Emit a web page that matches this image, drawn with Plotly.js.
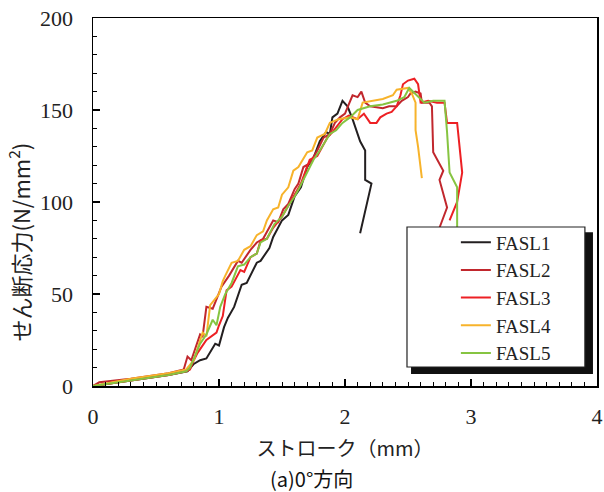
<!DOCTYPE html>
<html><head><meta charset="utf-8">
<script src="https://cdn.plot.ly/plotly-3.0.1.min.js"></script>
<style>html,body{margin:0;padding:0;background:#fff;}#chart{width:604px;height:492px;}</style>
</head><body><div id="chart"></div>
<script>
const seriesNames = ["FASL1", "FASL2", "FASL3", "FASL4", "FASL5"];
const seriesColors = ["#231f20", "#c1272d", "#ed2024", "#f7b32b", "#86c441"];

const fasl1X = [0, 0.2, 0.4, 0.6, 0.75, 0.8, 0.85, 0.9, 0.97, 1.0, 1.04, 1.07, 1.12, 1.18, 1.22, 1.3, 1.33, 1.4, 1.43, 1.5, 1.55, 1.6, 1.65, 1.7, 1.75, 1.8, 1.85, 1.88, 1.9, 1.94, 1.98, 2.02, 2.06, 2.12, 2.16, 2.16, 2.21, 2.12];
const fasl1Y = [0, 2, 4, 6, 8, 12, 14, 15, 23, 22, 32, 37, 43, 55, 56, 67, 68, 75, 81, 90, 93, 103, 108, 119, 124, 133, 138, 137, 146, 148, 155, 152, 145, 133, 128, 112, 110, 83];

const fasl2X = [0, 0.05, 0.3, 0.6, 0.72, 0.75, 0.78, 0.85, 0.87, 0.9, 0.95, 1.0, 1.02, 1.08, 1.15, 1.18, 1.25, 1.3, 1.35, 1.43, 1.47, 1.51, 1.55, 1.6, 1.63, 1.67, 1.72, 1.78, 1.83, 1.88, 1.92, 1.96, 2.0, 2.03, 2.06, 2.1, 2.13, 2.16, 2.2, 2.3, 2.35, 2.41, 2.45, 2.5, 2.52, 2.56, 2.6, 2.61, 2.67, 2.69, 2.7, 2.78, 2.75, 2.81, 2.75];
const fasl2Y = [0, 2, 4, 7, 9, 16, 14, 28, 27, 43, 42, 50, 54, 60, 68, 67, 74, 78, 80, 90, 89, 96, 99, 107, 110, 119, 121, 128, 135, 137, 143, 146, 148, 153, 158, 157, 160, 154, 152, 151, 152, 152, 155, 157, 159, 160, 159, 154, 154, 152, 127, 117, 112, 97, 86];

const fasl3X = [0, 0.3, 0.6, 0.74, 0.77, 0.8, 0.83, 0.9, 0.98, 1.0, 1.03, 1.06, 1.1, 1.17, 1.2, 1.25, 1.3, 1.33, 1.38, 1.43, 1.5, 1.55, 1.59, 1.65, 1.72, 1.78, 1.86, 1.9, 1.98, 2.03, 2.1, 2.15, 2.2, 2.25, 2.28, 2.33, 2.37, 2.41, 2.44, 2.46, 2.5, 2.55, 2.58, 2.6, 2.66, 2.73, 2.79, 2.81, 2.89, 2.93, 2.89, 2.83];
const fasl3Y = [0, 3, 6, 8, 9, 14, 18, 25, 29, 33, 38, 52, 54, 63, 62, 70, 72, 79, 80, 86, 92, 98, 103, 110, 123, 125, 135, 138, 145, 147, 145, 148, 143, 143, 146, 148, 149, 152, 158, 164, 166, 167, 164, 154, 155, 154, 154, 143, 143, 116, 100, 90];

const fasl4X = [0, 0.3, 0.6, 0.74, 0.8, 0.84, 0.87, 0.9, 0.93, 1.0, 1.03, 1.05, 1.1, 1.15, 1.2, 1.25, 1.3, 1.35, 1.38, 1.43, 1.47, 1.5, 1.55, 1.59, 1.63, 1.7, 1.74, 1.78, 1.84, 1.88, 1.95, 2.04, 2.1, 2.14, 2.22, 2.3, 2.38, 2.41, 2.5, 2.53, 2.56, 2.56, 2.58, 2.61];
const fasl4Y = [0, 4, 7, 9, 14, 22, 29, 27, 44, 50, 57, 60, 67, 68, 74, 76, 82, 84, 90, 96, 97, 104, 108, 117, 119, 127, 128, 135, 137, 143, 145, 146, 145, 154, 155, 156, 158, 161, 162, 159, 154, 139, 130, 113];

const fasl5X = [0, 0.3, 0.6, 0.74, 0.77, 0.82, 0.85, 0.9, 0.95, 0.98, 1.01, 1.05, 1.1, 1.15, 1.2, 1.25, 1.3, 1.33, 1.38, 1.44, 1.5, 1.55, 1.6, 1.64, 1.7, 1.75, 1.8, 1.88, 1.93, 1.98, 2.04, 2.1, 2.2, 2.3, 2.41, 2.47, 2.51, 2.57, 2.63, 2.7, 2.79, 2.81, 2.83, 2.89, 2.89];
const fasl5Y = [0, 3, 6, 8, 10, 18, 23, 28, 36, 33, 43, 50, 56, 65, 66, 70, 72, 78, 80, 88, 92, 98, 103, 108, 116, 123, 128, 137, 139, 143, 146, 150, 152, 153, 155, 157, 162, 158, 154, 155, 155, 138, 116, 108, 86];

const xTickVals = [0, 1, 2, 3, 4];
const yTickVals = [0, 50, 100, 150, 200];
const xTitle = "ストローク（mm）";
const yTitle = "せん断応力(N/mm<sup>2</sup>)";
const caption = "(a)0°方向";

const xs = [fasl1X, fasl2X, fasl3X, fasl4X, fasl5X];
const ys = [fasl1Y, fasl2Y, fasl3Y, fasl4Y, fasl5Y];

const traces = seriesNames.map((n, i) => ({
  type: 'scatter', mode: 'lines', name: n,
  x: xs[i], y: ys[i],
  line: {color: seriesColors[i], width: 2}
}));

const serif = "Liberation Serif, DejaVu Serif, serif";
const cjk = "Noto Sans CJK JP, sans-serif";

const layout = {
  width: 604, height: 492,
  margin: {l: 93, r: 7, t: 18, b: 106},
  paper_bgcolor: '#fff', plot_bgcolor: '#fff',
  showlegend: true,
  xaxis: {
    range: [0, 4], tickvals: xTickVals, ticks: 'inside', ticklen: 7, tickwidth: 1.2, tickcolor: '#000',
    minor: {dtick: 0.1, ticks: 'inside', ticklen: 4, tickwidth: 1, tickcolor: '#000'},
    showline: true, linecolor: '#000', linewidth: 1.5, mirror: true,
    showgrid: false, zeroline: false,
    tickfont: {family: serif, size: 22, color: '#222'},
    ticklabelstandoff: 10,
    title: {text: xTitle, font: {family: cjk, size: 20, color: '#222'}, standoff: 14}
  },
  yaxis: {
    range: [0, 200], tickvals: yTickVals, ticks: 'inside', ticklen: 7, tickwidth: 1.2, tickcolor: '#000',
    minor: {dtick: 10, ticks: 'inside', ticklen: 4, tickwidth: 1, tickcolor: '#000'},
    showline: true, linecolor: '#000', linewidth: 1.5, mirror: true,
    showgrid: false, zeroline: false,
    tickfont: {family: serif, size: 22, color: '#222'},
    ticklabelstandoff: 14
  },
  legend: {
    x: 0.72, y: 0.442, xanchor: 'left', yanchor: 'top',
    bgcolor: 'rgba(0,0,0,0)', borderwidth: 0,
    font: {family: serif, size: 19, color: '#222'},
    tracegroupgap: 0
  },
  shapes: [
    {type: 'rect', xref: 'paper', yref: 'paper', x0: 0.631, x1: 0.992, y0: 0.0326, y1: 0.418,
     fillcolor: '#111', line: {width: 0}, layer: 'above'},
    {type: 'rect', xref: 'paper', yref: 'paper', x0: 0.623, x1: 0.976, y0: 0.0516, y1: 0.432,
     fillcolor: '#fff', line: {color: '#222', width: 1.2}, layer: 'above'}
  ],
  annotations: [
    {text: yTitle, xref: 'paper', yref: 'paper', x: -0.148, y: 0.391, textangle: -90,
     showarrow: false, xanchor: 'center', yanchor: 'middle',
     font: {family: cjk, size: 22, color: '#222'}},
    {text: caption, xref: 'paper', yref: 'paper', x: 0.433, y: -0.25,
     showarrow: false, xanchor: 'center', yanchor: 'middle',
     font: {family: cjk, size: 20, color: '#111'}}
  ]
};

Plotly.newPlot('chart', traces, layout, {displayModeBar: false, staticPlot: true});
</script></body></html>
